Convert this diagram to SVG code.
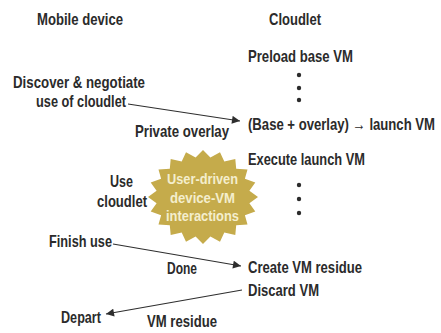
<svg xmlns="http://www.w3.org/2000/svg" width="441" height="333" viewBox="0 0 441 333">
<style>
text{font-family:"Liberation Sans","DejaVu Sans",sans-serif;font-weight:bold;font-size:17px;fill:#2b2b2b}
.b text{fill:#f4eecd;font-size:15.5px}
.c{stroke:#2e2e2e;stroke-width:1.1;fill:none;marker-end:url(#ah)}
.d{fill:#2b2b2b}
</style>
<defs>
<marker id="ah" viewBox="0 0 10 10" refX="10" refY="5" markerWidth="10" markerHeight="8" markerUnits="userSpaceOnUse" orient="auto">
<path d="M0,0 L10,5 L0,10 Z" fill="#2e2e2e"/>
</marker>
</defs>
<rect width="441" height="333" fill="#fff"/>
<g id="hdr-mobile"><text x="37" y="25" textLength="86" lengthAdjust="spacingAndGlyphs">Mobile device</text></g>
<g id="hdr-cloudlet"><text x="269" y="25" textLength="52" lengthAdjust="spacingAndGlyphs">Cloudlet</text></g>
<g id="preload"><text x="248" y="62" textLength="105" lengthAdjust="spacingAndGlyphs">Preload base VM</text></g>
<g id="dots1"><circle class="d" cx="299" cy="75" r="2.2"/><circle class="d" cx="299" cy="88" r="2.2"/><circle class="d" cx="299" cy="100" r="2.2"/></g>
<g id="discover"><text x="13" y="88" textLength="132" lengthAdjust="spacingAndGlyphs">Discover &amp; negotiate</text><text x="36" y="107" textLength="90" lengthAdjust="spacingAndGlyphs">use of cloudlet</text></g>
<g id="launch"><text transform="translate(248,130) scale(0.76,1)" x="0" y="0" textLength="246" lengthAdjust="spacingAndGlyphs">(Base + overlay) → launch VM</text></g>
<g id="execute"><text x="248" y="165" textLength="117" lengthAdjust="spacingAndGlyphs">Execute launch VM</text></g>
<g id="dots2"><circle class="d" cx="299" cy="185" r="2.2"/><circle class="d" cx="299" cy="199" r="2.2"/><circle class="d" cx="299" cy="213" r="2.2"/></g>
<g id="use"><text x="110" y="187" textLength="23" lengthAdjust="spacingAndGlyphs">Use</text><text x="97" y="207" textLength="50" lengthAdjust="spacingAndGlyphs">cloudlet</text></g>
<g id="burst" class="b">
<polygon fill="#c5ab4b" points="203,150 210.4,157.5 220,152.3 224.3,161.4 235.3,159 236.2,168.7 247.5,169.4 244.9,178.8 255.3,182.5 249.4,190.7 258,197 249.4,203.3 255.3,211.5 244.9,215.2 247.5,224.6 236.2,225.3 235.3,235 224.3,232.6 220,241.7 210.4,236.5 203,244 195.6,236.5 186,241.7 181.7,232.6 170.7,235 169.8,225.3 158.5,224.6 161.1,215.2 150.7,211.5 156.6,203.3 148,197 156.6,190.7 150.7,182.5 161.1,178.8 158.5,169.4 169.8,168.7 170.7,159 181.7,161.4 186,152.3 195.6,157.5"/>
<text x="167" y="184" textLength="71" lengthAdjust="spacingAndGlyphs">User-driven</text>
<text x="170" y="202.5" textLength="65" lengthAdjust="spacingAndGlyphs">device-VM</text>
<text x="166" y="221" textLength="73" lengthAdjust="spacingAndGlyphs">interactions</text>
</g>
<g id="finish"><text x="49" y="247" textLength="63" lengthAdjust="spacingAndGlyphs">Finish use</text></g>
<g id="create"><text x="248" y="273" textLength="114" lengthAdjust="spacingAndGlyphs">Create VM residue</text></g>
<g id="discard"><text x="248" y="296" textLength="71" lengthAdjust="spacingAndGlyphs">Discard VM</text></g>
<g id="depart"><text x="61" y="323" textLength="40" lengthAdjust="spacingAndGlyphs">Depart</text></g>
<g id="connectors">
<line class="c" x1="128" y1="104" x2="240" y2="121"/>
<line class="c" x1="113" y1="244" x2="241" y2="266"/>
<line class="c" x1="242" y1="290" x2="106" y2="314"/>
<text x="135" y="137" textLength="94" lengthAdjust="spacingAndGlyphs">Private overlay</text>
<text x="167" y="274" textLength="30" lengthAdjust="spacingAndGlyphs">Done</text>
<text x="147" y="327" textLength="70" lengthAdjust="spacingAndGlyphs">VM residue</text>
</g>
</svg>
